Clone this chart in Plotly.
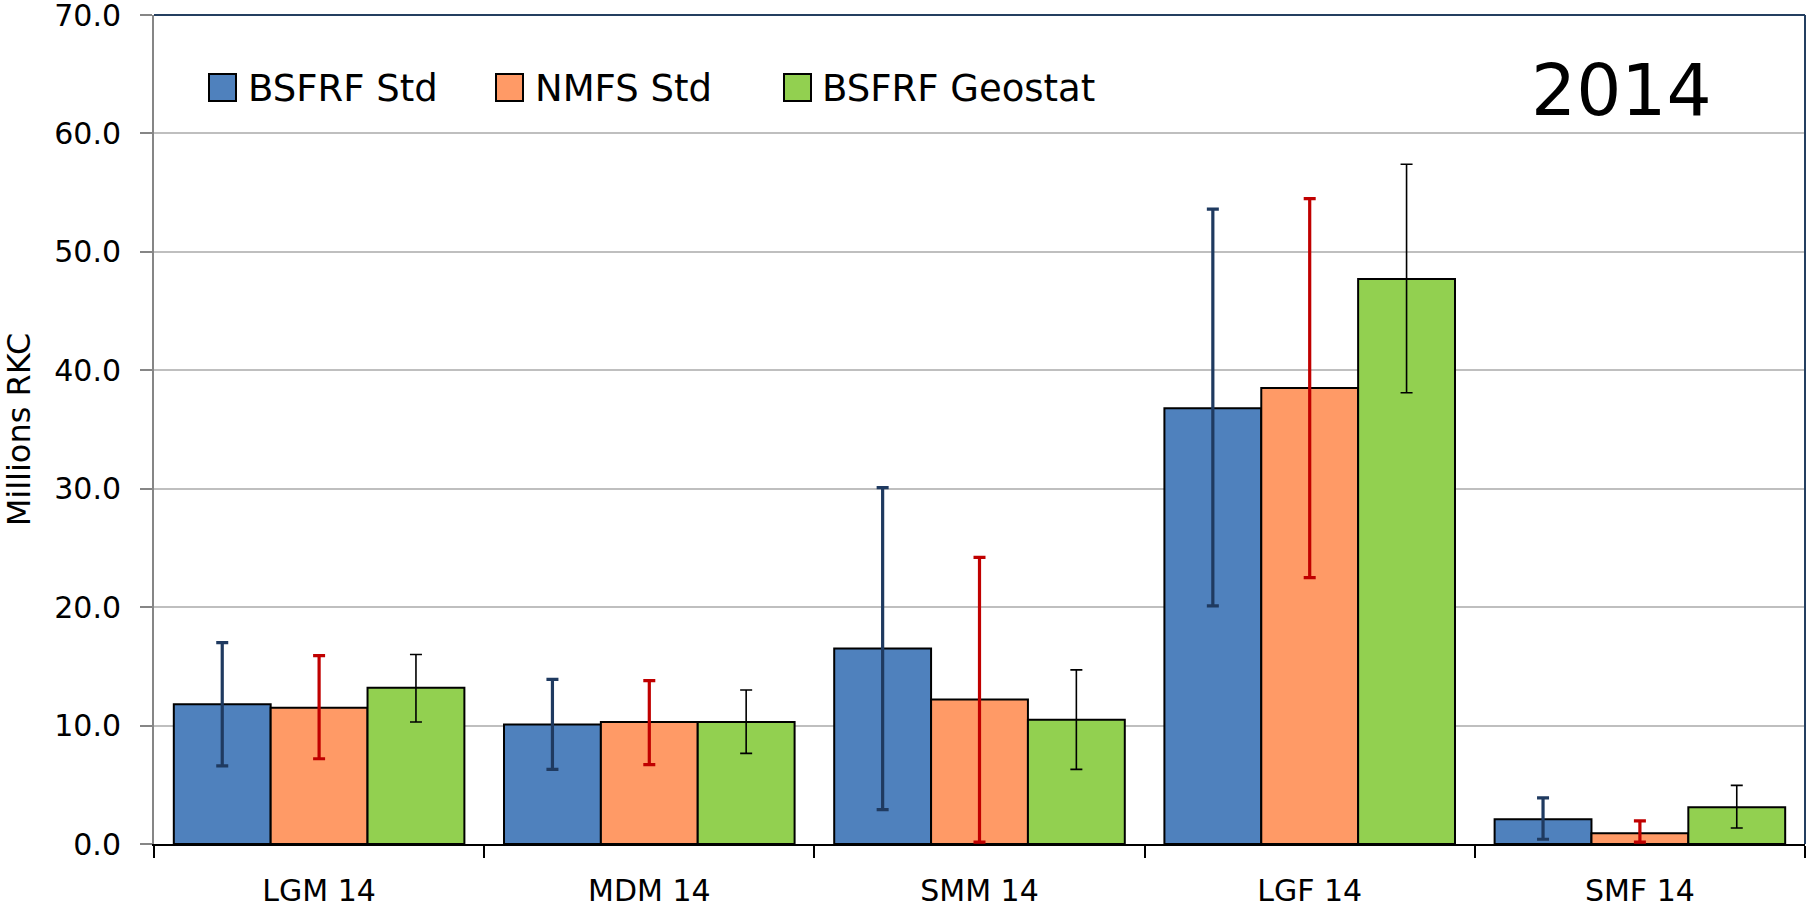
import plotly.graph_objects as go

categories = ["LGM 14", "MDM 14", "SMM 14", "LGF 14", "SMF 14"]
series_names = ["BSFRF Std", "NMFS Std", "BSFRF Geostat"]

bsfrf_std = [11.8, 10.1, 16.5, 36.8, 2.1]
bsfrf_std_upper = [17.0, 13.9, 30.1, 53.6, 3.9]
bsfrf_std_lower = [6.6, 6.3, 2.9, 20.1, 0.4]

nmfs_std = [11.5, 10.3, 12.2, 38.5, 0.9]
nmfs_std_upper = [15.9, 13.8, 24.2, 54.5, 1.95]
nmfs_std_lower = [7.2, 6.7, 0.15, 22.5, 0.15]

bsfrf_geo = [13.2, 10.3, 10.5, 47.7, 3.1]
bsfrf_geo_upper = [16.0, 13.0, 14.7, 57.4, 4.95]
bsfrf_geo_lower = [10.3, 7.65, 6.3, 38.1, 1.35]

y_ticks = [0, 10, 20, 30, 40, 50, 60, 70]
year_label = "2014"
y_title = "Millions RKC"

FONT = "'DejaVu Sans', sans-serif"
W, H = 1807, 914
L, R, T, B = 154, 2, 15, 70
PW, PH = W - L - R, H - T - B


def px(x):
    return (x - L) / PW


def py(y):
    return (H - B - y) / PH


fills = ["#4F81BD", "#FF9A66", "#92D050"]
err_colors = ["#1F3A60", "#C00000", "#000000"]
err_thick = [3.2, 3.2, 1.6]

vals = [bsfrf_std, nmfs_std, bsfrf_geo]
uppers = [bsfrf_std_upper, nmfs_std_upper, bsfrf_geo_upper]
lowers = [bsfrf_std_lower, nmfs_std_lower, bsfrf_geo_lower]

fig = go.Figure()
for i in range(3):
    fig.add_trace(go.Bar(
        x=categories, y=vals[i], name=series_names[i],
        marker=dict(color=fills[i], line=dict(color="#000000", width=2)),
        error_y=dict(type="data", symmetric=False,
                     array=[u - v for u, v in zip(uppers[i], vals[i])],
                     arrayminus=[v - l for v, l in zip(vals[i], lowers[i])],
                     color=err_colors[i], thickness=err_thick[i], width=6),
        showlegend=False,
    ))

# manual legend (large swatches like the original)
sq_x = [209, 496, 784]
txt_x = [246, 533, 820]
shapes = []
annotations = []
for i in range(3):
    shapes.append(dict(type="rect", xref="paper", yref="paper",
                       x0=px(sq_x[i]), x1=px(sq_x[i] + 27), y0=py(101), y1=py(74),
                       fillcolor=fills[i], line=dict(color="#000000", width=2)))
    annotations.append(dict(xref="paper", yref="paper", x=px(txt_x[i]), y=py(88),
                            xanchor="left", yanchor="middle", showarrow=False,
                            text=series_names[i],
                            font=dict(family=FONT, size=37, color="#000000")))

annotations.append(dict(xref="paper", yref="paper", x=px(1621), y=py(90),
                        xanchor="center", yanchor="middle", showarrow=False,
                        text=year_label, font=dict(family=FONT, size=71, color="#000000")))

# top and right border in navy
shapes.append(dict(type="line", xref="paper", yref="paper", x0=0, x1=1, y0=1, y1=1,
                   line=dict(color="#243F60", width=2)))
shapes.append(dict(type="line", xref="paper", yref="paper", x0=1, x1=1, y0=0, y1=1,
                   line=dict(color="#243F60", width=2)))

fig.update_layout(
    width=W, height=H,
    margin=dict(l=L, r=R, t=T, b=B, pad=0, autoexpand=False),
    paper_bgcolor="white", plot_bgcolor="white",
    barmode="group", bargap=0.12, bargroupgap=0,
    font=dict(family=FONT, color="#000000"),
    shapes=shapes, annotations=annotations,
    xaxis=dict(
        type="category", showline=True, linecolor="#000000", linewidth=2,
        ticks="outside", tickson="boundaries", ticklen=12, tickwidth=2, tickcolor="#000000",
        tickfont=dict(family=FONT, size=30, color="#000000"),
        ticklabelstandoff=19, automargin=False,
        showgrid=False, zeroline=False,
    ),
    yaxis=dict(
        range=[0, 70], tickvals=y_ticks, tickformat=".1f",
        showline=True, linecolor="#868686", linewidth=2,
        ticks="outside", ticklen=12, tickwidth=2, tickcolor="#868686",
        tickfont=dict(family=FONT, size=30, color="#000000"),
        ticklabelstandoff=13, ticklabeloverflow="allow", automargin=False,
        showgrid=True, gridcolor="#BFBFBF", gridwidth=2,
        zeroline=False,
        title=dict(text=y_title, font=dict(family=FONT, size=32, color="#000000"), standoff=14),
    ),
)

fig.write_html("out.html", config={"displayModeBar": False},
               post_script="document.body.style.margin='0';")
